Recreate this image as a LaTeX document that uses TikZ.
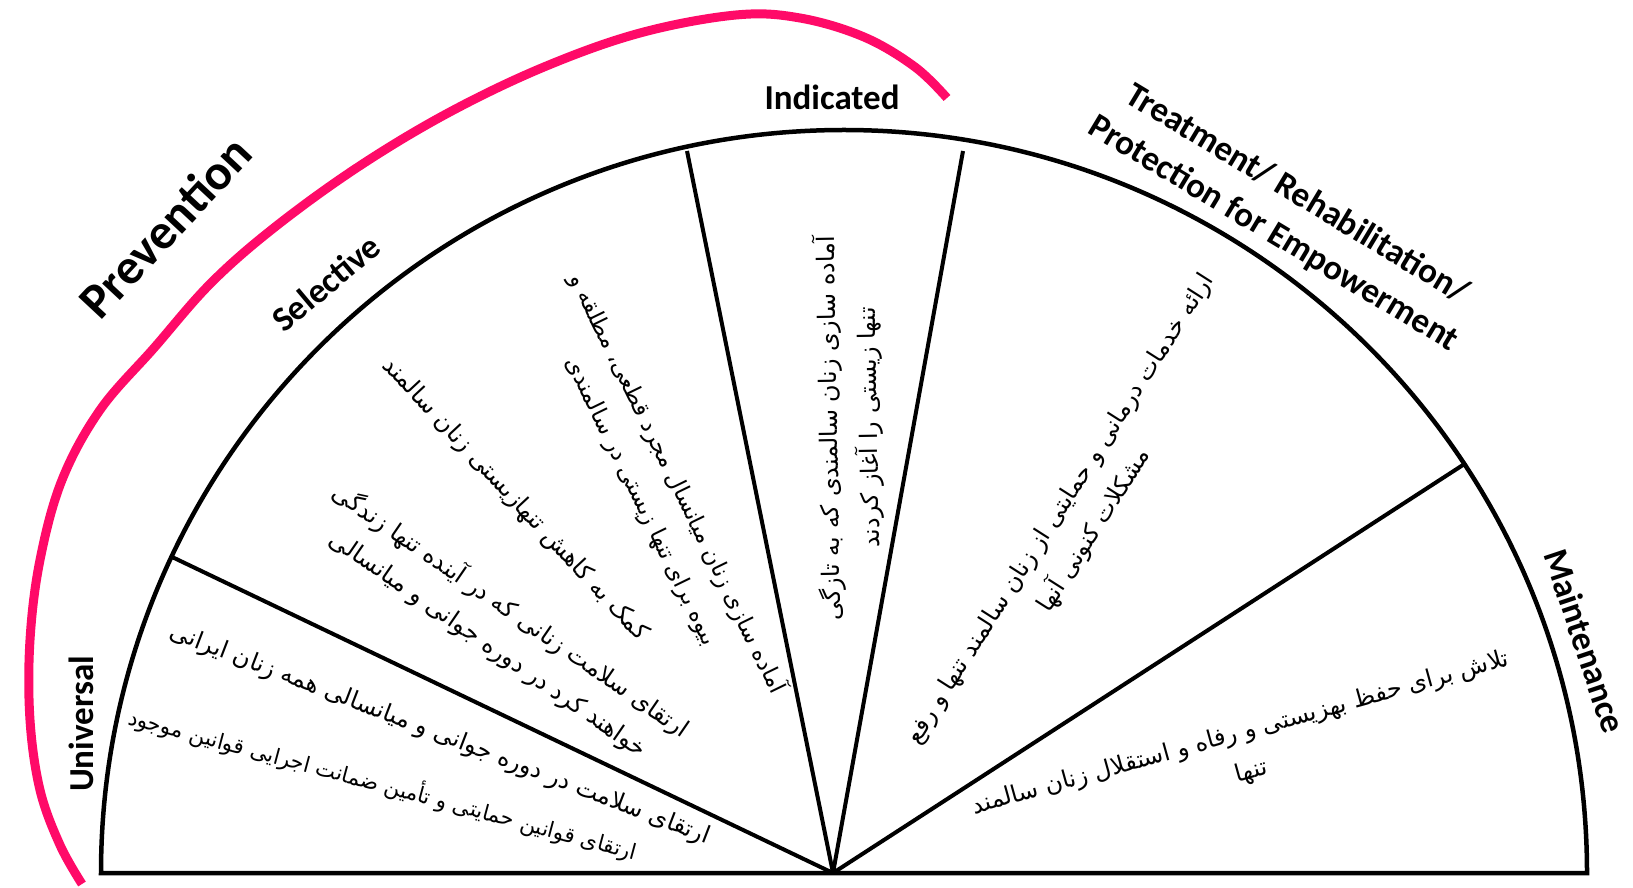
\documentclass[tikz,border=0pt]{standalone}
\usepackage{fontspec}
\setmainfont{Carlito}
\newfontfamily\farsi[Script=Arabic]{DejaVu Sans}
\TeXXeTstate=1
\newcommand{\fline}[1]{\beginR #1\endR}
\definecolor{preventpink}{HTML}{FF0A68}

\begin{document}
\begin{tikzpicture}[
  x=1pt,y=1pt,
  rim/.style={line width=4.5pt,black},
  spoke/.style={line width=4pt,black},
  tier/.style={font=\fontsize{35}{46}\selectfont\bfseries,align=center,inner sep=0pt},
  fa/.style={font=\farsi\fontsize{24}{40}\selectfont,align=center,inner sep=0pt}
]
  \useasboundingbox[fill=white] (0,0) rectangle (1633,887);

  \draw[preventpink,line width=9pt] plot[smooth,tension=0.6] coordinates {
    (82,3) (60,42) (40,97) (30,167) (30,247) (40,327) (62,407) (100,477)
    (154,539) (211,604) (275,660) (358,720) (448,774) (544,820) (640,854)
    (736,872) (800,869) (864,850) (915,820) (947,789)};

  \draw[rim] (101,14) -- (1587,14) arc[start angle=0,end angle=180,radius=743] -- cycle;

  \coordinate (apex) at (833,14);
  \coordinate (b1) at (170,331);
  \coordinate (b2) at (687,736);
  \coordinate (b3) at (963,736);
  \coordinate (b4) at (1466,424);
  \foreach \b in {b1,b2,b3,b4}
    \draw[spoke] (apex) -- (\b);

  \node[tier,font=\fontsize{50}{60}\selectfont\bfseries,rotate=47] (prev) at (165,660) {Prevention};
  \node[tier,rotate=40] (sel) at (326,604) {Selective};
  \node[tier] (ind) at (832,790) {Indicated};
  \node[tier,rotate=-31] (treat) at (1285,673) {Treatment/ Rehabilitation/\\Protection for Empowerment};
  \node[tier,rotate=-71.5] (maint) at (1585,246) {Maintenance};
  \node[tier,rotate=90] (univ) at (81,163) {Universal};

  \node[fa,rotate=-21] (u1) at (440,152) {\fline{ارتقای سلامت در دوره جوانی و میانسالی همه زنان ایرانی}};
  \node[fa,font=\farsi\fontsize{21.5}{40}\selectfont,rotate=-15] (u2) at (383,103) {\fline{ارتقای قوانین حمایتی و تأمین ضمانت اجرایی قوانین موجود}};
  \node[fa,rotate=-47] (s1) at (515,387) {\fline{کمک به کاهش تنهازیستی زنان سالمند}};
  \node[fa,rotate=-34.5] (s2) at (500,260) {\fline{ارتقای سلامت زنانی که در آینده تنها زندگی}\\\fline{خواهند کرد در دوره جوانی و میانسالی}};
  \node[fa,font=\farsi\fontsize{23}{40}\selectfont,rotate=-64] (s3) at (660,395) {\fline{آماده سازی زنان میانسال مجرد قطعی، مطلقه و}\\\fline{بیوه برای تنها زیستی در سالمندی}};
  \node[fa,rotate=91] (i1) at (849,459) {\fline{آماده سازی زنان سالمندی که به تازگی}\\\fline{تنها زیستی را آغاز کردند}};
  \node[fa,rotate=57.5] (t1) at (1078,367) {\fline{ارائه خدمات درمانی و حمایتی از زنان سالمند تنها و رفع}\\\fline{مشکلات کنونی آنها}};
  \node[fa,rotate=15.5] (m1) at (1246,134) {\fline{تلاش برای حفظ بهزیستی و رفاه و استقلال زنان سالمند}\\\fline{تنها}};
\end{tikzpicture}
\end{document}
